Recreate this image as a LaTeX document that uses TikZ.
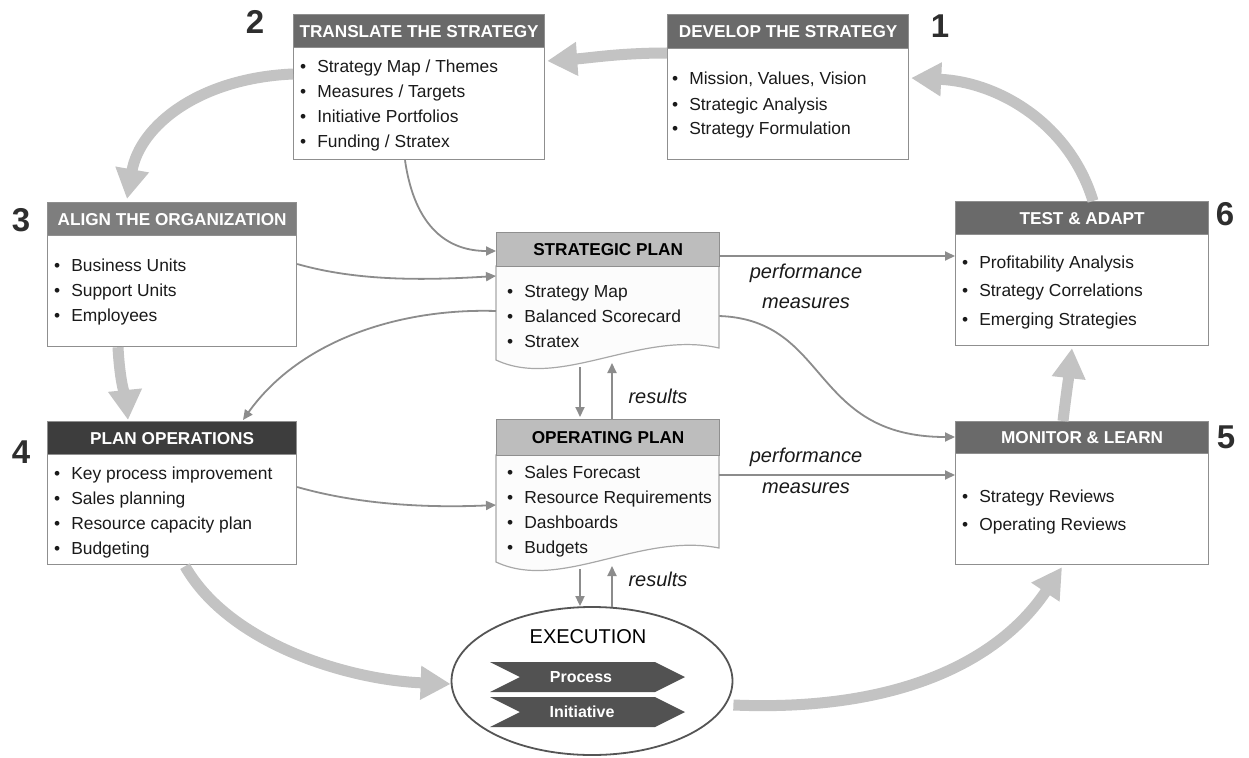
\documentclass[tikz,border=0pt]{standalone}
\usepackage{fontspec}
\setmainfont{Liberation Sans}
\usetikzlibrary{arrows.meta,calc,shapes.geometric}
\definecolor{hdrdark}{HTML}{6A6A6A}
\definecolor{hdralign}{HTML}{7E7E7E}
\definecolor{hdrplan}{HTML}{3D3D3D}
\definecolor{hdrlight}{HTML}{BDBDBD}
\definecolor{boxborder}{HTML}{8F8F8F}
\definecolor{biggray}{HTML}{C3C3C3}
\definecolor{thingray}{HTML}{8C8C8C}
\definecolor{chevgray}{HTML}{525252}
\definecolor{numgray}{HTML}{2E2E2E}
\definecolor{docfill}{HTML}{FCFCFC}
\definecolor{docborder}{HTML}{A8A8A8}
\definecolor{ellborder}{HTML}{555555}
\definecolor{txt}{HTML}{1A1A1A}
\begin{document}
\begin{tikzpicture}[x=1pt,y=-1pt,
  box/.style={draw=boxborder, line width=1.2pt, fill=white, inner sep=0pt, anchor=north west},
  hdr/.style={draw=boxborder, line width=1.2pt, inner sep=0pt, anchor=north west, text=white, font=\fontsize{17.2}{20}\selectfont\bfseries},
  body/.style={anchor=base west, inner sep=0pt, text=txt, font=\fontsize{17.4}{25}\selectfont},
  bodywide/.style={anchor=base west, inner sep=0pt, text=txt, font=\fontsize{17.4}{28.5}\selectfont},
  num/.style={inner sep=0pt, font=\fontsize{33}{33}\selectfont\bfseries, text=numgray},
  big/.style={draw=biggray, line width=11pt, -{Triangle[length=30pt,width=32pt]}},
  thin/.style={draw=thingray, line width=1.8pt, -{Triangle[length=10pt,width=9pt]}},
  lbl/.style={anchor=base, inner sep=0pt, font=\fontsize{20}{30}\selectfont\itshape, text=txt},
  chev/.style={fill=chevgray},
  chevtxt/.style={inner sep=0pt, text=white, font=\fontsize{16}{16}\selectfont\bfseries},
  doc/.style={fill=docfill, draw=docborder, line width=1.2pt},
]
\fill[white] (0,0) rectangle (1249,757);
\useasboundingbox (0,0) rectangle (1249,757);

% ---------- boxes ----------
\node[box, minimum width=251pt, minimum height=145pt] (tr) at (293,14) {};
\node[hdr, fill=hdrdark, minimum width=251pt, minimum height=33pt] (trh) at (293,14) {TRANSLATE THE STRATEGY};
\node[body] (trt) at (300,73) {\begin{tabular}[t]{@{}l@{\hspace{11pt}}l@{}}•&Strategy Map / Themes\\•&Measures / Targets\\•&Initiative Portfolios\\•&Funding / Stratex\end{tabular}};

\node[box, minimum width=241pt, minimum height=145pt] (dv) at (667,14) {};
\node[hdr, fill=hdrdark, minimum width=241pt, minimum height=34pt] (dvh) at (667,14) {DEVELOP THE STRATEGY};
\node[body] (dvt) at (672,85) {\begin{tabular}[t]{@{}l@{\hspace{11pt}}l@{}}•&Mission, Values, Vision\\•&Strategic Analysis\\•&Strategy Formulation\end{tabular}};

\node[box, minimum width=249pt, minimum height=144pt] (al) at (47,202) {};
\node[hdr, fill=hdralign, minimum width=249pt, minimum height=33pt] (alh) at (47,202) {ALIGN THE ORGANIZATION};
\node[body] (alt) at (54,271) {\begin{tabular}[t]{@{}l@{\hspace{11pt}}l@{}}•&Business Units\\•&Support Units\\•&Employees\end{tabular}};

\node[box, minimum width=249pt, minimum height=143pt] (po) at (47,421) {};
\node[hdr, fill=hdrplan, minimum width=249pt, minimum height=33pt] (poh) at (47,421) {PLAN OPERATIONS};
\node[body] (pot) at (54,479) {\begin{tabular}[t]{@{}l@{\hspace{11pt}}l@{}}•&Key process improvement\\•&Sales planning\\•&Resource capacity plan\\•&Budgeting\end{tabular}};

\node[box, minimum width=253pt, minimum height=144pt] (ta) at (955,201) {};
\node[hdr, fill=hdrdark, minimum width=253pt, minimum height=33pt] (tah) at (955,201) {TEST \& ADAPT};
\node[bodywide] (tat) at (962,268) {\begin{tabular}[t]{@{}l@{\hspace{11pt}}l@{}}•&Profitability Analysis\\•&Strategy Correlations\\•&Emerging Strategies\end{tabular}};

\node[box, minimum width=253pt, minimum height=143pt] (ml) at (955,421) {};
\node[hdr, fill=hdrdark, minimum width=253pt, minimum height=32pt] (mlh) at (955,421) {MONITOR \& LEARN};
\node[bodywide] (mlt) at (962,502) {\begin{tabular}[t]{@{}l@{\hspace{11pt}}l@{}}•&Strategy Reviews\\•&Operating Reviews\end{tabular}};

% ---------- numbers ----------
\node[num] (n1) at (940,26) {1};
\node[num] (n2) at (255,22) {2};
\node[num] (n3) at (21,220) {3};
\node[num] (n4) at (21,452) {4};
\node[num] (n5) at (1226,437) {5};
\node[num] (n6) at (1225,214) {6};

% ---------- documents ----------
\path[doc] (496,266) -- (496,360) .. controls (560,390) and (640,330) .. (719,348) -- (719,266) -- cycle;
\node[hdr, fill=hdrlight, text=black, minimum width=223pt, minimum height=34pt] (sph) at (496,232) {STRATEGIC PLAN};
\node[inner sep=0pt, minimum width=223pt, minimum height=130pt, anchor=north west] (sp) at (496,232) {};
\node[body] (spt) at (507,297) {\begin{tabular}[t]{@{}l@{\hspace{11pt}}l@{}}•&Strategy Map\\•&Balanced Scorecard\\•&Stratex\end{tabular}};

\path[doc] (496,455) -- (496,562) .. controls (560,592) and (640,532) .. (719,548) -- (719,455) -- cycle;
\node[hdr, fill=hdrlight, text=black, minimum width=223pt, minimum height=36pt] (oph) at (496,419) {OPERATING PLAN};
\node[inner sep=0pt, minimum width=223pt, minimum height=146pt, anchor=north west] (op) at (496,419) {};
\node[body] (opt) at (507,478) {\begin{tabular}[t]{@{}l@{\hspace{11pt}}l@{}}•&Sales Forecast\\•&Resource Requirements\\•&Dashboards\\•&Budgets\end{tabular}};

% ---------- execution ----------
\node[ellipse, draw=ellborder, line width=1.8pt, fill=white, minimum width=281pt, minimum height=148pt, inner sep=0pt] (ex) at (592,681) {};
\node[inner sep=0pt, text=black, font=\fontsize{20}{20}\selectfont] (ext) at (588,637) {EXECUTION};
\fill[chev] (490,662) -- (655,662) -- (685,677) -- (655,692) -- (490,692) -- (520,677) -- cycle;
\fill[chev] (490,697) -- (655,697) -- (685,712) -- (655,727) -- (490,727) -- (520,712) -- cycle;
\node[chevtxt] (proc) at (581,677) {Process};
\node[chevtxt] (init) at (582,712) {Initiative};

% ---------- big cycle arrows ----------
\draw[big] ($(dv.north west)+(0,39)$) .. controls (620,53) and (590,58) .. ($(tr.north east)+(2,47)$);
\draw[big] ($(tr.north west)+(0,60)$) .. controls (200,78) and (140,125) .. ($(al.north west)+(80,-3)$);
\draw[big] ($(al.south west)+(71,0)$) .. controls (120,385) and (126,400) .. ($(po.north west)+(81,-1)$);
\draw[big] ($(po.south west)+(138,1)$) .. controls (230,645) and (350,680) .. ($(ex.west)+(0,3)$);
\draw[big] ($(ex.east)+(0,24)$) .. controls (900,712) and (1000,660) .. ($(ml.south west)+(107,2)$);
\draw[big] ($(ml.north west)+(108,0)$) .. controls (1066,395) and (1069,375) .. ($(ta.south west)+(117,2)$);
\draw[big] ($(ta.north west)+(138,0)$) .. controls (1070,125) and (1000,82) .. ($(dv.north east)+(2,64)$);

% ---------- thin connectors ----------
\draw[thin] ($(tr.south west)+(112,0)$) .. controls (415,230) and (450,251) .. ($(sp.north west)+(0,19)$);
\draw[thin] ($(al.north east)+(0,62)$) .. controls (360,282) and (430,280) .. ($(sp.north west)+(0,44)$);
\draw[thin] ($(sp.north west)+(0,79)$) .. controls (400,308) and (300,340) .. ($(po.north west)+(196,-1)$);
\draw[thin] ($(sp.north east)+(0,24)$) -- ($(ta.north west)+(0,55)$);
\draw[thin] ($(sp.north east)+(0,84)$) .. controls (830,320) and (810,437) .. ($(ml.north west)+(0,16)$);
\draw[thin] ($(po.north east)+(0,66)$) .. controls (360,505) and (430,508) .. ($(op.north west)+(0,86)$);
\draw[thin] ($(op.north east)+(0,56)$) -- ($(ml.north west)+(0,54)$);
\draw[thin] (580,367) -- ($(op.north west)+(84,-2)$);
\draw[thin] ($(op.north west)+(116,0)$) -- (612,363);
\draw[thin] (580,569) -- ($(ex.north)+(-12,0)$);
\draw[thin] ($(ex.north)+(20,1)$) -- (612,566);

% ---------- labels ----------
\node[lbl] (pm1a) at (806,278) {performance};
\node[lbl] (pm1b) at (806,308) {measures};
\node[lbl] (pm2a) at (806,462) {performance};
\node[lbl] (pm2b) at (806,493) {measures};
\node[lbl] (res1) at (658,403) {results};
\node[lbl] (res2) at (658,586) {results};
\end{tikzpicture}
\end{document}
